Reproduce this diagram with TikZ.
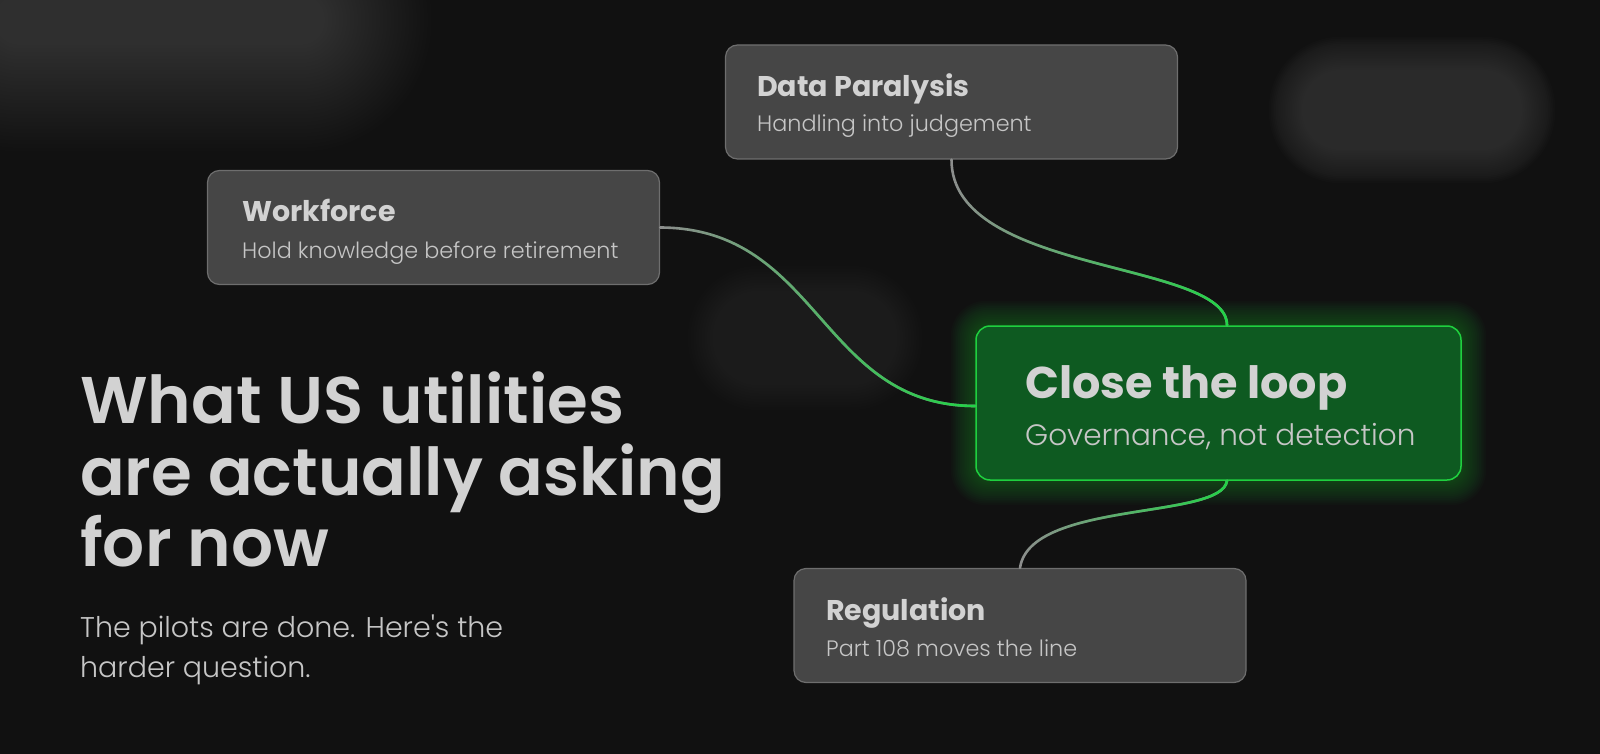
\documentclass[tikz,border=0pt]{standalone}
\usepackage{fontspec}
\setmainfont{Poppins}
\IfFontExistsTF{Poppins SemiBold}{\newfontfamily\headfont{Poppins SemiBold}}{\newfontfamily\headfont{Poppins}[FakeBold=0.6]}
\IfFontExistsTF{Poppins Light}{\newfontfamily\lightfont{Poppins Light}}{\newfontfamily\lightfont{Poppins}}
\usetikzlibrary{fadings,calc}
\definecolor{bg}{HTML}{111111}
\definecolor{cardfill}{HTML}{464646}
\definecolor{cardline}{HTML}{6E6E6E}
\definecolor{hotfill}{HTML}{0E5A21}
\definecolor{hotline}{HTML}{1FD03F}
\definecolor{txt}{HTML}{D2D2D2}
\definecolor{subtxt}{HTML}{C6C6C6}
\definecolor{wire}{HTML}{8E8E8E}
\definecolor{wiregreen}{HTML}{22D447}
\definecolor{blobc}{HTML}{5A5A5A}
\tikzfading[name=towardgreen, left color=transparent!100, middle color=transparent!50, right color=transparent!0]
\newcommand\softblob[7]{% cx cy w h steps spread opacity
  \foreach \k in {1,...,#5}{
    \pgfmathsetmacro\ww{#3+2*#6*(#5-\k)/#5}
    \pgfmathsetmacro\hh{#4+2*#6*(#5-\k)/#5}
    \pgfmathsetmacro\rr{min(\ww,\hh)/2-1}
    \fill[blobc, opacity=#7, rounded corners=\rr pt] ($(#1,#2)+(-\ww/2,-\hh/2)$) rectangle ($(#1,#2)+(\ww/2,\hh/2)$);
  }}
\tikzset{
  card/.style={draw=cardline, fill=cardfill, rounded corners=12pt, line width=1.2pt, inner sep=0pt, minimum width=452pt, minimum height=114pt},
  hot/.style={draw=hotline, fill=hotfill, rounded corners=14pt, line width=1.5pt, inner sep=0pt},
  ttl/.style={text=txt, font=\bfseries\fontsize{28.5}{32}\selectfont, inner sep=0pt, anchor=base west},
  sub/.style={text=subtxt, font=\lightfont\fontsize{22.3}{26}\selectfont, inner sep=0pt, anchor=base west},
  bigttl/.style={text=txt, font=\bfseries\fontsize{44.5}{50}\selectfont, inner sep=0pt, anchor=base west},
  bigsub/.style={text=subtxt, font=\lightfont\fontsize{29.5}{34}\selectfont, inner sep=0pt, anchor=base west},
  head/.style={text=txt, font=\headfont\fontsize{66}{72}\selectfont, inner sep=0pt, anchor=base west},
  lede/.style={text=subtxt, font=\lightfont\fontsize{28.5}{36}\selectfont, inner sep=0pt, anchor=base west},
  wirebase/.style={draw=wire, line width=2.6pt, line cap=round},
  wiretop/.style={draw=wiregreen, line width=2.6pt, line cap=round, path fading=towardgreen},
}
\begin{document}
\begin{tikzpicture}[x=1pt,y=-1pt]
\fill[bg] (0,0) rectangle (1600,754);
\useasboundingbox (0,0) rectangle (1600,754);
% blurred background patches
\softblob{160}{20}{330}{50}{30}{110}{0.024}
\softblob{1412}{110}{220}{80}{20}{35}{0.03}
\softblob{805}{338}{130}{40}{20}{55}{0.015}
\softblob{600}{750}{320}{10}{18}{55}{0.012}
% green glow
\foreach \g in {1,...,14}{
  \fill[hotline, opacity=0.022, rounded corners=14pt+\g*1.5pt] (976-\g*1.8,326-\g*1.8) rectangle (1461+\g*1.8,480+\g*1.8);
}
% boxes
\node[card] (dp) at (951.5,102) {};
\node[card] (wf) at (433.5,227.5) {};
\node[card] (rg) at (1020,625.5) {};
\node[hot, minimum width=485pt, minimum height=154pt] (cl) at (1218.5,403) {};
% connectors
\coordinate (clN) at ([xshift=8.5pt]cl.north);
\coordinate (clS) at ([xshift=8.5pt]cl.south);
\coordinate (clW) at ([yshift=-3pt]cl.west);
\draw[wirebase] (wf.east) .. controls (820,228) and (820,406) .. (clW);
\draw[wiretop] (wf.east) .. controls (820,228) and (820,406) .. (clW);
\draw[wirebase] (dp.south) .. controls (951,275) and (1227,260) .. (clN);
\draw[wiretop] (dp.south) .. controls (951,275) and (1227,260) .. (clN);
\draw[wirebase] (rg.north) .. controls (1030,500) and (1222,520) .. (clS);
\draw[wiretop] (rg.north) .. controls (1030,500) and (1222,520) .. (clS);
% texts
\node[ttl] (dpT) at (757,97) {Data Paralysis};
\node[sub] (dpS) at (757,132) {Handling into judgement};
\node[ttl] (wfT) at (242,222) {Workforce};
\node[sub] (wfS) at (242,258) {Hold knowledge before retirement};
\node[ttl] (rgT) at (826,620) {Regulation};
\node[sub] (rgS) at (826,656) {Part 108 moves the line};
\node[bigttl] (clT) at (1025,398) {Close the loop};
\node[bigsub] (clS2) at (1025,445) {Governance, not detection};
\node[head] (h1) at (80,423) {What US utilities};
\node[head] (h2) at (80,495) {are actually asking};
\node[head] (h3) at (80,566) {for now};
\node[lede] (l1) at (80,637) {The pilots are done. Here's the};
\node[lede] (l2) at (80,677) {harder question.};
\end{tikzpicture}
\end{document}
